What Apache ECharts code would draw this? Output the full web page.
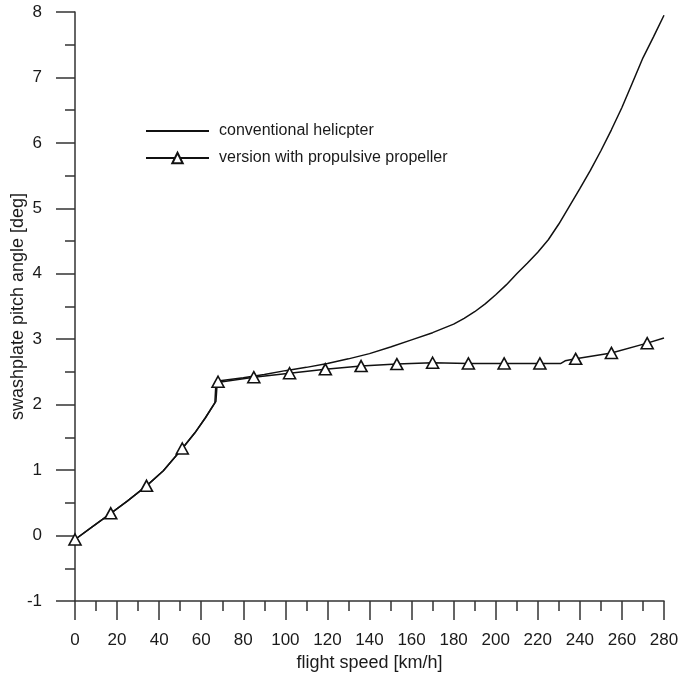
<!DOCTYPE html>
<html>
<head>
<meta charset="utf-8">
<script src="https://cdn.jsdelivr.net/npm/echarts@6/dist/echarts.min.js"></script>
<style>html,body{margin:0;padding:0;background:#fff}#c{width:679px;height:678px}</style>
</head>
<body>
<div id="c"></div>
<script>
// Data
var convSpeed = [0, 8, 17, 25, 34, 42, 51, 57, 62, 66.5, 67.0, 68, 80, 90, 100, 110, 120, 130, 140, 150, 160, 170, 180, 185, 190, 195, 200, 205, 210, 215, 220, 225, 230, 235, 240, 245, 250, 255, 260, 265, 270, 275, 280];
var convAngle = [-0.06, 0.13, 0.34, 0.53, 0.76, 0.99, 1.33, 1.57, 1.80, 2.03, 2.33, 2.36, 2.41, 2.46, 2.52, 2.57, 2.63, 2.70, 2.78, 2.88, 2.99, 3.10, 3.23, 3.32, 3.42, 3.54, 3.68, 3.83, 4.00, 4.16, 4.33, 4.52, 4.76, 5.03, 5.30, 5.58, 5.88, 6.20, 6.54, 6.92, 7.30, 7.62, 7.95];

var propSpeed = [0, 8, 17, 25, 34, 42, 51, 57, 62, 67, 67.6, 68, 85, 102, 119, 136, 153, 170, 187, 204, 221, 231, 233, 238, 255, 272, 280];
var propAngle = [-0.06, 0.13, 0.34, 0.53, 0.76, 0.99, 1.33, 1.57, 1.80, 2.05, 2.34, 2.35, 2.42, 2.48, 2.54, 2.59, 2.62, 2.64, 2.63, 2.63, 2.63, 2.63, 2.67, 2.70, 2.79, 2.94, 3.02];
var propMarked = [1, 0, 1, 0, 1, 0, 1, 0, 0, 0, 0, 1, 1, 1, 1, 1, 1, 1, 1, 1, 1, 0, 0, 1, 1, 1, 0];

var xTicks = {min: 0, max: 280, interval: 20};
var yTicks = {min: -1, max: 8, interval: 1};
var seriesNames = ['conventional helicpter', 'version with propulsive propeller'];
var axisNames = ['flight speed [km/h]', 'swashplate pitch angle [deg]'];

var convData = convSpeed.map(function (s, i) { return [s, convAngle[i]]; });
var propData = propSpeed.map(function (s, i) {
  return propMarked[i] ? {value: [s, propAngle[i]]} : {value: [s, propAngle[i]], symbol: 'none'};
});

var font = '"Liberation Sans", Arial, sans-serif';
var axisCol = '#333';
var txtCol = '#1a1a1a';
var chart = echarts.init(document.getElementById('c'), null, {renderer: 'canvas'});
chart.setOption({
  animation: false,
  backgroundColor: '#fff',
  grid: {left: 75, right: 15, top: 12, bottom: 77, containLabel: false, outerBoundsMode: 'none'},
  legend: {
    orient: 'vertical', left: 140, top: 118, itemWidth: 63, itemHeight: 13, itemGap: 11,
    textStyle: {fontFamily: font, fontSize: 16, color: txtCol, padding: [0, 0, 0, 5]},
    data: [
      {name: seriesNames[0], itemStyle: {opacity: 0}},
      {name: seriesNames[1]}
    ]
  },
  xAxis: {
    type: 'value', min: xTicks.min, max: xTicks.max, interval: xTicks.interval,
    name: axisNames[0], nameLocation: 'middle', nameGap: 53, nameMoveOverlap: false,
    nameTextStyle: {fontFamily: font, fontSize: 18, color: txtCol},
    axisLine: {show: true, onZero: false, lineStyle: {color: axisCol, width: 1.5}},
    axisTick: {show: true, inside: false, length: 19, lineStyle: {color: axisCol, width: 1.5}},
    minorTick: {show: true, splitNumber: 2, length: 10, lineStyle: {color: axisCol, width: 1.5}},
    axisLabel: {fontFamily: font, fontSize: 17, color: txtCol, margin: 31},
    splitLine: {show: false}
  },
  yAxis: {
    type: 'value', min: yTicks.min, max: yTicks.max, interval: yTicks.interval,
    name: axisNames[1], nameLocation: 'middle', nameGap: 48, nameMoveOverlap: false,
    nameTextStyle: {fontFamily: font, fontSize: 18, color: txtCol},
    axisLine: {show: true, onZero: false, lineStyle: {color: axisCol, width: 1.5}},
    axisTick: {show: true, inside: false, length: 19, lineStyle: {color: axisCol, width: 1.5}},
    minorTick: {show: true, splitNumber: 2, length: 10, lineStyle: {color: axisCol, width: 1.5}},
    axisLabel: {fontFamily: font, fontSize: 17, color: txtCol, margin: 33},
    splitLine: {show: false}
  },
  series: [
    {
      name: seriesNames[0], type: 'line', data: convData, symbol: 'none', smooth: false,
      lineStyle: {color: '#111', width: 1.5}, itemStyle: {color: '#111'}, z: 2
    },
    {
      name: seriesNames[1], type: 'line', data: propData, symbol: 'triangle', symbolSize: [12, 11],
      showAllSymbol: true, smooth: false,
      lineStyle: {color: '#111', width: 1.5},
      itemStyle: {color: '#fff', borderColor: '#111', borderWidth: 1.6}, z: 3
    }
  ]
});
</script>
</body>
</html>
